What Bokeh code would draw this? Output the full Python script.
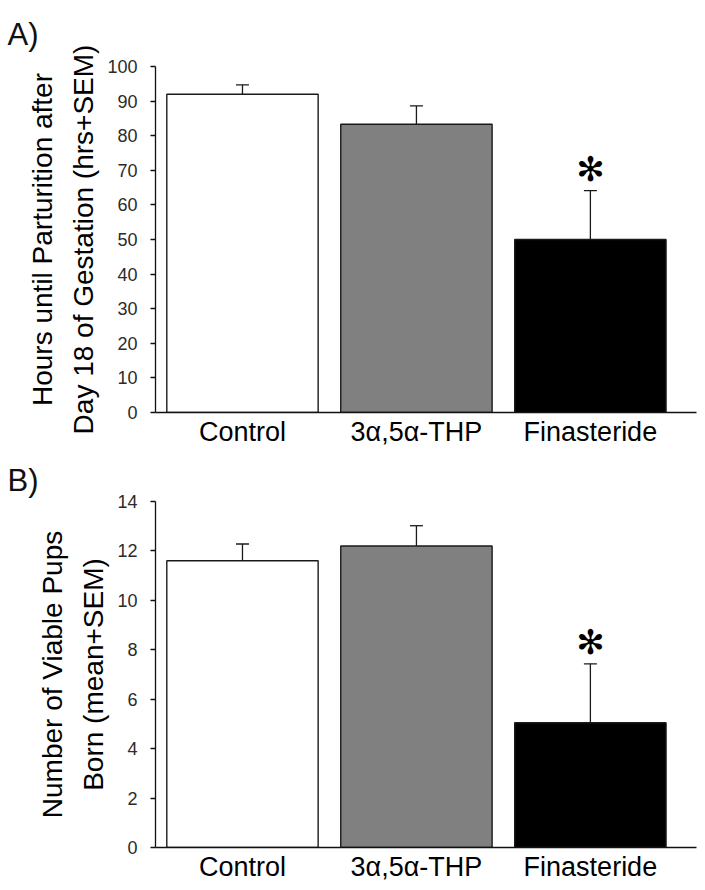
from bokeh.plotting import figure
from bokeh.layouts import column
from bokeh.models import Range1d, FixedTicker, ColumnDataSource, Whisker, TeeHead, LinearAxis
from bokeh.core.properties import value
from bokeh.embed import file_html
from bokeh.resources import INLINE

# ---- data ----
groups = ["Control", "3α,5α-THP", "Finasteride"]
bar_colors = ["#ffffff", "#808080", "#000000"]

hours_mean = [92.0, 83.3, 50.0]
hours_sem = [2.7, 5.3, 14.1]
hours_ticks = [0, 10, 20, 30, 40, 50, 60, 70, 80, 90, 100]

pups_mean = [11.6, 12.2, 5.05]
pups_sem = [0.68, 0.82, 2.38]
pups_ticks = [0, 2, 4, 6, 8, 10, 12, 14]

significant = [False, False, True]

FONT = "Liberation Sans"
FRAME_W = 541
FRAME_H = 346
X_END = 3.11


def panel(means, sems, ticks, ymax, letter, line1, line2, border_top, border_bottom,
          title_standoff):
    xs = [i + 0.5 for i in range(len(groups))]
    p = figure(width=705, frame_width=FRAME_W, frame_height=FRAME_H,
               x_range=Range1d(0, X_END), y_range=Range1d(0, ymax),
               min_border_left=155, min_border_right=9,
               min_border_top=border_top, min_border_bottom=border_bottom,
               output_backend="svg", toolbar_location=None)
    p.outline_line_color = None
    p.grid.visible = False
    p.background_fill_color = "white"

    p.title.text = letter
    p.title.text_font = FONT
    p.title.text_font_size = "31px"
    p.title.text_font_style = "normal"
    p.title.text_color = "#111111"
    p.title.align = "left"
    p.title.offset = -148
    p.title.standoff = title_standoff

    px_y = FRAME_H / ymax
    src = ColumnDataSource(dict(x=xs, top=means, color=bar_colors,
                                upper=[m + s for m, s in zip(means, sems)], lower=means))
    p.vbar(x="x", top="top", width=0.87, bottom=0, source=src, fill_color="color",
           line_color="#1a1a1a", line_width=1.4)
    w = Whisker(base="x", upper="upper", lower="lower", source=src,
                line_color="#1a1a1a", line_width=1.3,
                upper_head=TeeHead(size=13, line_color="#1a1a1a", line_width=1.3),
                lower_head=None, level="underlay")
    p.add_layout(w)

    # significance stars
    sx = [x for x, s in zip(xs, significant) if s]
    sy = [m + e + 22 / px_y for m, e, s in zip(means, sems, significant) if s]
    p.text(x=sx, y=sy, text=["✻"] * len(sx), text_align="center", text_baseline="middle",
           text_font=value("DejaVu Sans"), text_font_size="34px", text_color="black")

    # y axis (ticks + second title line)
    yax = p.yaxis[0]
    yax.ticker = FixedTicker(ticks=ticks)
    yax.minor_tick_line_color = None
    yax.major_tick_out = 5
    yax.major_tick_in = 0
    yax.axis_line_color = "#111111"
    yax.axis_line_width = 1.3
    yax.major_tick_line_color = "#111111"
    yax.major_tick_line_width = 1.3
    yax.major_label_text_font = FONT
    yax.major_label_text_font_size = "18px"
    yax.major_label_text_color = "#2b2b2b"
    yax.major_label_standoff = 13
    yax.axis_label = line2
    yax.axis_label_text_font = FONT
    yax.axis_label_text_font_size = "28px"
    yax.axis_label_text_font_style = "normal"
    yax.axis_label_text_color = "black"
    yax.axis_label_standoff = 5

    # outer axis carrying only the first title line
    ax1 = LinearAxis(ticker=FixedTicker(ticks=[]), axis_label=line1,
                     axis_line_color=None, major_tick_out=0, major_tick_in=0,
                     minor_tick_out=0, minor_tick_in=0, major_label_standoff=0,
                     axis_label_text_font=FONT, axis_label_text_font_size="28px",
                     axis_label_text_font_style="normal", axis_label_text_color="black",
                     axis_label_standoff=8)
    p.add_layout(ax1, "left")

    xax = p.xaxis[0]
    xax.ticker = FixedTicker(ticks=xs)
    xax.major_label_overrides = {x: g for x, g in zip(xs, groups)}
    xax.minor_tick_line_color = None
    xax.major_tick_line_color = None
    xax.major_tick_out = 0
    xax.major_tick_in = 0
    xax.axis_line_color = "#111111"
    xax.axis_line_width = 1.3
    xax.major_label_text_font = FONT
    xax.major_label_text_font_size = "27px"
    xax.major_label_text_color = "black"
    xax.major_label_standoff = 4
    return p


pa = panel(hours_mean, hours_sem, hours_ticks, 100, "A)",
           "Hours until Parturition after", "Day 18 of Gestation (hrs+SEM)", 66, 40, 29)
pb = panel(pups_mean, pups_sem, pups_ticks, 14, "B)",
           "Number of Viable Pups", "Born (mean+SEM)", 49, 36, 7)

layout = column(pa, pb, spacing=0)
open("out.html", "w").write(file_html(layout, INLINE))
